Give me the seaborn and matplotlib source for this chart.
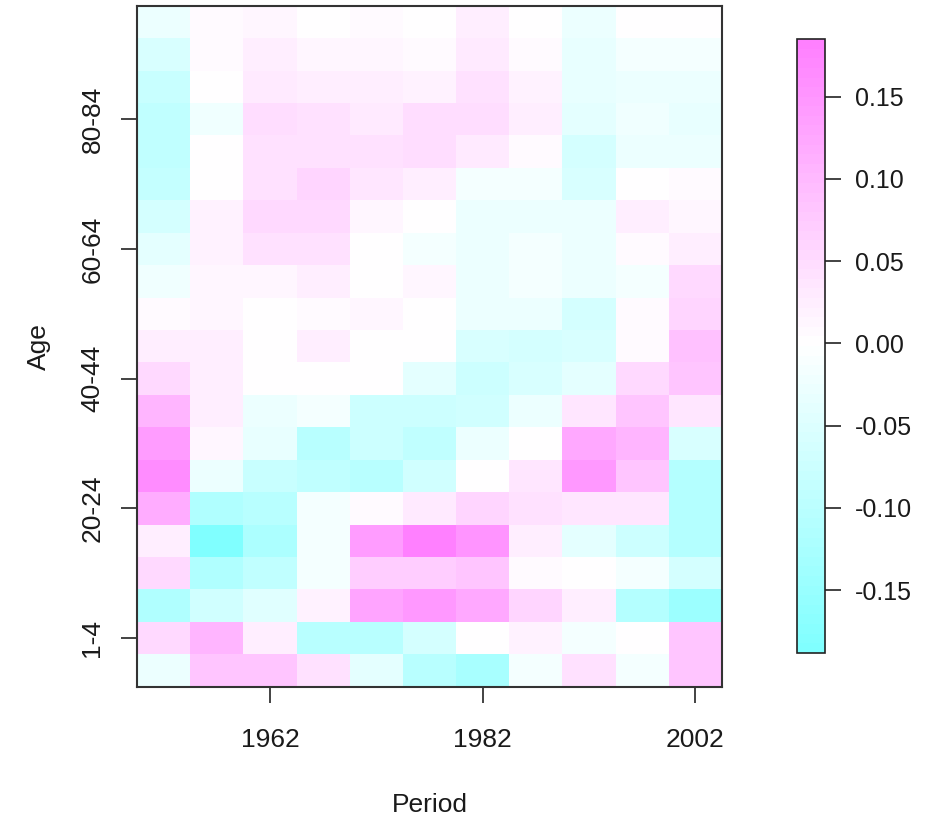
import matplotlib
matplotlib.use("Agg")
import matplotlib.pyplot as plt
import numpy as np
import pandas as pd
import seaborn as sns
from matplotlib.colors import LinearSegmentedColormap

# Period (columns) and age groups (rows, youngest first)
periods = [1952, 1957, 1962, 1967, 1972, 1977, 1982, 1987, 1992, 1997, 2002]
age_groups = ["0", "1-4", "5-9", "10-14", "15-19", "20-24", "25-29", "30-34",
              "35-39", "40-44", "45-49", "50-54", "55-59", "60-64", "65-69",
              "70-74", "75-79", "80-84", "85-89", "90-94", "95+"]

# Effect per age group for each period, youngest age group first
p1952 = [-0.025, 0.053, -0.116, 0.053, 0.025, 0.116, 0.165, 0.140, 0.104, 0.053, 0.022,
         0.010, -0.022, -0.038, -0.062, -0.085, -0.094, -0.094, -0.081, -0.057, -0.030]
p1957 = [0.081, 0.104, -0.070, -0.116, -0.188, -0.116, -0.025, 0.015, 0.025, 0.022, 0.022,
         0.015, 0.015, 0.018, 0.018, 0.000, 0.000, -0.022, 0.000, 0.008, 0.010]
p1962 = [0.081, 0.022, -0.046, -0.094, -0.120, -0.104, -0.081, -0.034, -0.025, 0.000, 0.000,
         0.000, 0.015, 0.041, 0.053, 0.041, 0.041, 0.047, 0.030, 0.022, 0.015]
p1967 = [0.041, -0.104, 0.018, -0.015, -0.015, -0.015, -0.090, -0.104, -0.015, 0.000, 0.022,
         0.010, 0.022, 0.041, 0.053, 0.057, 0.041, 0.041, 0.022, 0.015, 0.000]
p1972 = [-0.038, -0.104, 0.128, 0.069, 0.140, 0.010, -0.104, -0.075, -0.075, 0.000, 0.000,
         0.015, 0.000, 0.000, 0.015, 0.034, 0.041, 0.030, 0.022, 0.015, 0.010]
p1977 = [-0.104, -0.062, 0.145, 0.069, 0.185, 0.030, -0.069, -0.090, -0.075, -0.041, 0.000,
         0.000, 0.015, -0.015, 0.000, 0.022, 0.047, 0.047, 0.020, 0.010, 0.000]
p1982 = [-0.125, 0.000, 0.125, 0.081, 0.155, 0.062, 0.000, -0.025, -0.069, -0.075, -0.057,
         -0.030, -0.030, -0.025, -0.025, -0.015, 0.030, 0.047, 0.041, 0.030, 0.022]
p1987 = [-0.015, 0.018, 0.057, 0.010, 0.022, 0.041, 0.034, 0.000, -0.025, -0.057, -0.062,
         -0.025, -0.018, -0.018, -0.025, -0.015, 0.010, 0.022, 0.018, 0.010, 0.000]
p1992 = [0.041, -0.015, 0.025, 0.000, -0.041, 0.034, 0.150, 0.125, 0.034, -0.041, -0.054,
         -0.062, -0.025, -0.025, -0.030, -0.057, -0.062, -0.041, -0.034, -0.034, -0.025]
p1997 = [-0.015, 0.000, -0.109, -0.015, -0.075, 0.034, 0.081, 0.109, 0.081, 0.053, 0.010,
         0.010, -0.015, 0.010, 0.022, 0.000, -0.025, -0.022, -0.025, -0.015, 0.000]
p2002 = [0.081, 0.081, -0.147, -0.062, -0.109, -0.109, -0.109, -0.057, 0.034, 0.085, 0.091,
         0.062, 0.053, 0.022, 0.015, 0.010, -0.025, -0.034, -0.025, -0.015, 0.000]

labelled_periods = [1962, 1982, 2002]
labelled_ages = ["1-4", "20-24", "40-44", "60-64", "80-84"]
cbar_ticks = [-0.15, -0.10, -0.05, 0.00, 0.05, 0.10, 0.15]

columns = [p1952, p1957, p1962, p1967, p1972, p1977, p1982, p1987, p1992, p1997, p2002]
df = pd.DataFrame({p: v for p, v in zip(periods, columns)}, index=age_groups)
df = df.iloc[::-1]  # oldest ages at the top

vmin = float(df.values.min())
vmax = float(df.values.max())
mid = -vmin / (vmax - vmin)
cmap = LinearSegmentedColormap.from_list(
    "cyan_white_magenta",
    [(0.0, (0.5, 1.0, 1.0)), (mid, (1.0, 1.0, 1.0)), (1.0, (1.0, 0.5, 1.0))],
    N=64,
)

sns.set_style("white")
plt.rcParams["font.family"] = ["Liberation Sans", "DejaVu Sans"]
plt.rcParams["axes.unicode_minus"] = False

fig = plt.figure(figsize=(9.36, 8.18), dpi=100)
ax = fig.add_axes([0.1464, 0.1605, 0.625, 0.8325])
cax = fig.add_axes([0.8512, 0.2021, 0.0299, 0.75])

sns.heatmap(df, ax=ax, cbar_ax=cax, cmap=cmap, vmin=vmin, vmax=vmax,
            xticklabels=False, yticklabels=False,
            cbar_kws={"ticks": cbar_ticks, "format": "%.2f"})

# axis ticks only at selected periods and ages
xpos = [periods.index(p) + 0.5 for p in labelled_periods]
n = len(age_groups)
ypos = [(n - 1 - age_groups.index(a)) + 0.5 for a in labelled_ages]
ax.set_xticks(xpos)
ax.set_xticklabels([str(p) for p in labelled_periods])
ax.set_yticks(ypos)
ax.set_yticklabels(labelled_ages, rotation=90, va="center")

ax.tick_params(axis="x", bottom=True, length=11.5, width=1.2, pad=18,
               labelsize=19, color="#222222", labelcolor="#1a1a1a")
ax.tick_params(axis="y", left=True, length=11.5, width=1.2, pad=12,
               labelsize=19, color="#222222", labelcolor="#1a1a1a")

for s in ax.spines.values():
    s.set_visible(True)
    s.set_color("#333333")
    s.set_linewidth(1.5)

ax.set_xlabel("Period", fontsize=19, color="#1a1a1a")
ax.set_ylabel("Age", fontsize=19, color="#1a1a1a")
ax.xaxis.set_label_coords(0.5, -0.173)
ax.xaxis.label.set_va("center")
ax.yaxis.set_label_coords(-0.167, 0.5)
ax.yaxis.label.set_va("center")

cbar = ax.collections[0].colorbar
cbar.outline.set_visible(True)
cbar.outline.set_edgecolor("#222222")
cbar.outline.set_linewidth(1.2)
cax.tick_params(right=True, length=11.5, width=1.2, pad=10, labelsize=18,
                color="#222222", labelcolor="#1a1a1a")

fig.savefig("out.png", dpi=100)
